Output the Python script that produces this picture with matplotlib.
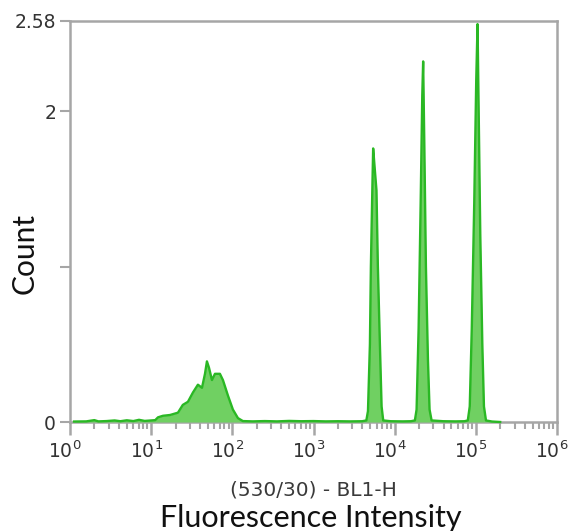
import matplotlib
matplotlib.use('Agg')
import matplotlib.pyplot as plt
import matplotlib.transforms as mtransforms
import numpy as np
from matplotlib.ticker import FixedLocator, NullFormatter, FuncFormatter

plt.rcParams['mathtext.fontset'] = 'dejavusans'

# ---- data (x as log10 of fluorescence intensity) ----
noise_log = [0.05, 0.20, 0.30, 0.35, 0.45, 0.55, 0.62, 0.70, 0.78, 0.85, 0.92, 1.00, 1.05]
noise_count = [0.003, 0.004, 0.012, 0.004, 0.006, 0.010, 0.005, 0.011, 0.006, 0.014, 0.007, 0.010, 0.012]

hump_log = [1.084, 1.145, 1.232, 1.33, 1.39, 1.453, 1.515, 1.576, 1.626, 1.663, 1.687,
            1.712, 1.749, 1.786, 1.847, 1.884, 1.946, 2.007, 2.069, 2.13]
hump_count = [0.03, 0.04, 0.045, 0.06, 0.11, 0.13, 0.19, 0.24, 0.22, 0.31, 0.39,
              0.35, 0.27, 0.31, 0.31, 0.27, 0.17, 0.08, 0.025, 0.006]

gap1_log = [2.25, 2.40, 2.55, 2.70, 2.85, 3.00, 3.15, 3.30, 3.45, 3.60]
gap1_count = [0.004, 0.006, 0.004, 0.007, 0.005, 0.006, 0.004, 0.005, 0.004, 0.005]

peak1_log = [3.651, 3.671, 3.695, 3.707, 3.725, 3.735, 3.756, 3.776, 3.793, 3.818, 3.839, 3.859]
peak1_count = [0.01, 0.07, 0.5, 1.0, 1.5, 1.76, 1.62, 1.49, 1.0, 0.5, 0.1, 0.01]

gap2_log = [3.95, 4.10, 4.20]
gap2_count = [0.005, 0.004, 0.005]

peak2_log = [4.249, 4.27, 4.295, 4.32, 4.34, 4.351, 4.365, 4.385, 4.41, 4.43, 4.455]
peak2_count = [0.01, 0.08, 0.6, 1.4, 2.1, 2.32, 1.8, 1.0, 0.4, 0.08, 0.01]

gap3_log = [4.60, 4.75, 4.86]
gap3_count = [0.005, 0.004, 0.005]

peak3_log = [4.901, 4.925, 4.95, 4.98, 5.005, 5.021, 5.035, 5.055, 5.08, 5.10, 5.125]
peak3_count = [0.01, 0.1, 0.6, 1.4, 2.2, 2.56, 2.0, 1.2, 0.5, 0.1, 0.01]

tail_log = [5.2, 5.3]
tail_count = [0.003, 0.0]

y_ticks = [0, 1, 2, 2.58]
y_tick_labels = ['0', '', '2', '2.58']
x_decades = [0, 1, 2, 3, 4, 5, 6]

xlabel_top = '(530/30) - BL1-H'
xlabel_bottom = 'Fluorescence Intensity'
ylabel = 'Count'

# ---- assemble ----
log_x = np.array(noise_log + hump_log + gap1_log + peak1_log + gap2_log + peak2_log
                 + gap3_log + peak3_log + tail_log)
cnt = np.array(noise_count + hump_count + gap1_count + peak1_count + gap2_count
               + peak2_count + gap3_count + peak3_count + tail_count)
x = 10 ** log_x

W, H = 572, 531
fig = plt.figure(figsize=(W / 100, H / 100), dpi=100)
ax = fig.add_axes([70 / W, 1 - 422 / H, (557 - 70) / W, (422 - 21) / H])

line_col = '#2ab824'
fill_col = '#70d062'
gray = '#a6a6a6'

ax.fill_between(x, 0, cnt, color=fill_col, linewidth=0, zorder=2)
ax.plot(x, cnt, color=line_col, lw=1.7, zorder=3, clip_on=False)

ax.set_xscale('log')
ax.set_xlim(1, 1e6)
ax.set_ylim(0, 2.58)

for s in ax.spines.values():
    s.set_color(gray)
    s.set_linewidth(1.8)
    s.set_zorder(1)

ax.xaxis.set_major_locator(FixedLocator([10 ** d for d in x_decades]))
minors = [m * 10 ** d for d in x_decades[:-1] for m in range(2, 10)]
ax.xaxis.set_minor_locator(FixedLocator(minors))
ax.xaxis.set_minor_formatter(NullFormatter())
ax.xaxis.set_major_formatter(FuncFormatter(
    lambda v, p: r'$\mathregular{10^{%d}}$' % int(round(np.log10(v)))))
ax.tick_params(axis='x', which='major', direction='out', length=9, width=1.8,
               color=gray, labelsize=13.5, labelcolor='#333333', pad=4)
ax.tick_params(axis='x', which='minor', direction='out', length=5, width=1.5, color=gray)

# shift x tick labels slightly left (exponent hangs to the right of the tick)
offset = mtransforms.ScaledTranslation(-5 / 100, 0, fig.dpi_scale_trans)
for lbl in ax.get_xticklabels():
    lbl.set_transform(lbl.get_transform() + offset)

ax.set_yticks(y_ticks)
ax.set_yticklabels(y_tick_labels)
ax.tick_params(axis='y', which='major', direction='out', length=7, width=1.5,
               color=gray, labelsize=13.5, labelcolor='#333333', pad=3)
ax.tick_params(axis='y', which='minor', left=False)

fig.text(313 / W, 1 - 490 / H, xlabel_top, ha='center', va='center',
         fontsize=14.5, color='#3a3a3a', family='DejaVu Sans')
fig.text(311 / W, 1 - 518 / H, xlabel_bottom, ha='center', va='center',
         fontsize=22, color='#111111', family='Lato')
fig.text(25 / W, 1 - 253 / H, ylabel, ha='center', va='center', rotation=90,
         fontsize=21.5, color='#111111', family='Lato')

fig.savefig('out.png', dpi=100)
